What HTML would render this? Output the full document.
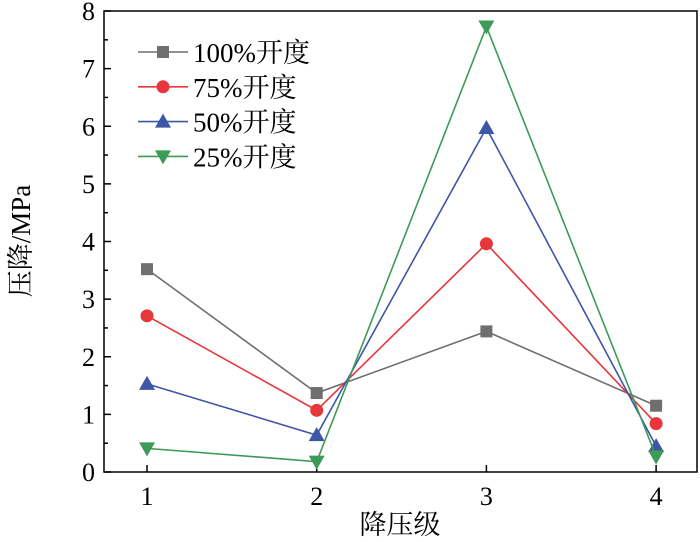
<!DOCTYPE html>
<html><head><meta charset="utf-8"><style>
body{margin:0;background:#fff}
svg{display:block;font-family:"Liberation Serif","Noto Serif CJK SC",serif}
</style></head><body>
<svg id="c" width="700" height="542"></svg>
<script>
const categories=[1,2,3,4];
const s100=[3.52,1.37,2.44,1.15];
const s75=[2.71,1.07,3.96,0.84];
const s50=[1.53,0.64,5.97,0.45];
const s25=[0.41,0.18,7.73,0.27];
const yTicks=[0,1,2,3,4,5,6,7,8];
const seriesNames=["100%开度","75%开度","50%开度","25%开度"];
const L=104,R=697,T=11,B=472;
const x=v=>147+(v-1)*169.7;
const y=v=>B-(v/8)*(B-T);
const svg=document.getElementById('c');
const NS='http://www.w3.org/2000/svg';
function mk(tag,at,txt){const e=document.createElementNS(NS,tag);for(const k in at)e.setAttribute(k,at[k]);if(txt!=null)e.textContent=txt;svg.appendChild(e);return e;}
let f=mk('rect',{x:L,y:T,width:R-L,height:B-T,fill:'none',stroke:'#000','stroke-width':1.5});


yTicks.forEach(t=>{
 let e=mk('line',{x1:L,x2:L+7,y1:y(t),y2:y(t),stroke:'#000','stroke-width':1.5});
 
 
 if(t<8){let m=mk('line',{x1:L,x2:L+4,y1:y(t+0.5),y2:y(t+0.5),stroke:'#000','stroke-width':1.5});
 
 }
 let l=mk('text',{x:L-9,y:y(t)+9,'text-anchor':'end','font-size':26},String(t));
 
 
});
categories.forEach(c=>{
 let e=mk('line',{x1:x(c),x2:x(c),y1:B,y2:B-7,stroke:'#000','stroke-width':1.5});
 
 
 let l=mk('text',{x:x(c),y:B+33,'text-anchor':'middle','font-size':26},String(c));
 
 
});
let xt=mk('text',{x:400,y:534,'text-anchor':'middle','font-size':27},'降压级');


let yt=mk('text',{x:0,y:0,'text-anchor':'middle','font-size':27,transform:'translate(30,241) rotate(-90)'},'压降/MPa');


const all=[s100,s75,s50,s25];
const colors=['#6f6f6f','#e8363a','#3d56a5','#3d9a57'];
const shapes=['sq','ci','up','dn'];
function marker(sh,cx,cy,col){
 let e;
 if(sh==='sq')e=mk('rect',{x:cx-6,y:cy-6,width:12,height:12,fill:col});
 else if(sh==='ci')e=mk('circle',{cx:cx,cy:cy,r:6.5,fill:col});
 else if(sh==='up')e=mk('polygon',{points:`${cx},${cy-8} ${cx-8},${cy+6} ${cx+8},${cy+6}`,fill:col});
 else e=mk('polygon',{points:`${cx},${cy+8} ${cx-8},${cy-6} ${cx+8},${cy-6}`,fill:col});
 return e;
}
all.forEach((s,i)=>{
 let p=mk('polyline',{points:s.map((v,j)=>x(categories[j])+','+y(v)).join(' '),fill:'none',stroke:colors[i],'stroke-width':1.6});
 
 
 s.forEach((v,j)=>{let m=marker(shapes[i],x(categories[j]),y(v),colors[i]);
 
 });
 const ly=52+i*34.8;
 let ll=mk('line',{x1:138,x2:188,y1:ly,y2:ly,stroke:colors[i],'stroke-width':1.6});
 
 
 let lm=marker(shapes[i],163,ly,colors[i]);
 
 
 let lt=mk('text',{x:193,y:ly+10,'font-size':27},seriesNames[i]);
 
 
});
</script>
</body></html>
